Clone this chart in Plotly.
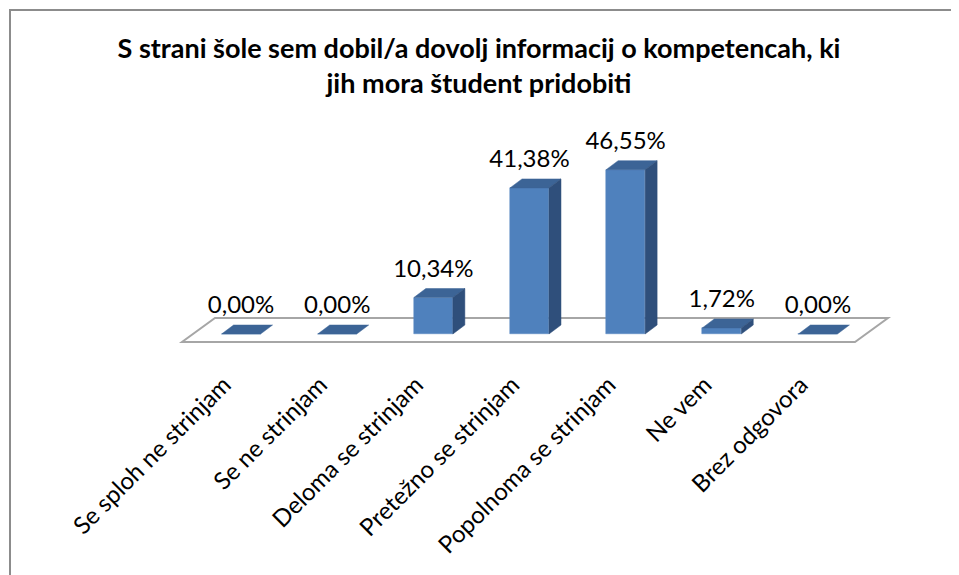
import plotly.graph_objects as go

# ---- data ----
categories = ["Se sploh ne strinjam", "Se ne strinjam", "Deloma se strinjam",
              "Pretežno se strinjam", "Popolnoma se strinjam", "Ne vem", "Brez odgovora"]
values = [0.00, 0.00, 10.34, 41.38, 46.55, 1.72, 0.00]
labels = ["0,00%", "0,00%", "10,34%", "41,38%", "46,55%", "1,72%", "0,00%"]
title_text = "S strani šole sem dobil/a dovolj informacij o kompetencah, ki<br>jih mora študent pridobiti"

# ---- geometry / style (page pixels -> figure pixels -> data units) ----
OFF = 8                 # default body margin of the html page
W, H = 959, 575
PX_CAT = 96.14          # pixels per category
PX_PCT = 3.53           # pixels per percent
FLOOR_X0 = 182 - OFF    # x of floor front-left corner
BAR_BASE_PX = 334 - OFF # y of bar front bottom (value 0)
PLOT_L, PLOT_R, PLOT_T, PLOT_B = 140, 900, 100, 357

FLOOR_DX, FLOOR_DY = 33 / PX_CAT, 24 / PX_PCT     # floor depth
FLOOR_FRONT = -8 / PX_PCT                          # floor front edge (value units)
BAR_SHIFT = 11 / PX_CAT                            # bar front offset in x
BAR_W = 39 / PX_CAT
BAR_DX, BAR_DY = 12 / PX_CAT, 9 / PX_PCT
LABEL_GAP = 27 / PX_PCT

FRONT = "#4F81BD"
TOP = "#3C6496"
SIDE = "#2F4F7B"

xmin = (PLOT_L - FLOOR_X0) / PX_CAT - 0.5
xmax = (PLOT_R - FLOOR_X0) / PX_CAT - 0.5
ymin = (BAR_BASE_PX - PLOT_B) / PX_PCT
ymax = (BAR_BASE_PX - PLOT_T) / PX_PCT

n = len(categories)
fig = go.Figure()

# floor (shape below all traces)
fx = [-0.5, n - 0.5, n - 0.5 + FLOOR_DX, -0.5 + FLOOR_DX]
fy = [FLOOR_FRONT, FLOOR_FRONT, FLOOR_FRONT + FLOOR_DY, FLOOR_FRONT + FLOOR_DY]
floor_path = "M " + " L ".join(f"{a},{b}" for a, b in zip(fx, fy)) + " Z"
fig.add_shape(type="path", xref="x", yref="y", path=floor_path,
              fillcolor="white", line=dict(color="#A6A6A6", width=2), layer="below")

# top and side faces
for i, v in enumerate(values):
    xl = i + BAR_SHIFT - BAR_W / 2
    xr = i + BAR_SHIFT + BAR_W / 2
    fig.add_trace(go.Scatter(
        x=[xl, xr, xr + BAR_DX, xl + BAR_DX, xl],
        y=[v, v, v + BAR_DY, v + BAR_DY, v],
        mode="lines", fill="toself", fillcolor=TOP, line=dict(color=TOP, width=0.5),
        hoverinfo="skip", showlegend=False))
    if v > 0:
        fig.add_trace(go.Scatter(
            x=[xr, xr + BAR_DX, xr + BAR_DX, xr, xr],
            y=[0, BAR_DY, v + BAR_DY, v, 0],
            mode="lines", fill="toself", fillcolor=SIDE, line=dict(color=SIDE, width=0.5),
            hoverinfo="skip", showlegend=False))

# value labels
fig.add_trace(go.Scatter(
    x=[i + BAR_SHIFT for i in range(n)], y=[v + LABEL_GAP for v in values],
    mode="text", text=labels, textposition="middle center",
    textfont=dict(family="Lato", size=24, color="black"),
    hoverinfo="skip", showlegend=False))

# front faces
fig.add_trace(go.Bar(
    x=[i + BAR_SHIFT for i in range(n)], y=values, width=BAR_W,
    marker=dict(color=FRONT, line=dict(color="#5B8BC4", width=0.5)),
    hoverinfo="skip", showlegend=False))

# chart border (only top/left visible in frame)
def px_to_paper_x(p):
    return (p - PLOT_L) / (PLOT_R - PLOT_L)

def px_to_paper_y(p):
    return (PLOT_B - p) / (PLOT_B - PLOT_T)

fig.add_shape(type="rect", xref="paper", yref="paper",
              x0=px_to_paper_x(10 - OFF), x1=px_to_paper_x(W + 20),
              y0=px_to_paper_y(H + 20), y1=px_to_paper_y(10 - OFF),
              line=dict(color="#8C8C8C", width=2), layer="below")

fig.update_layout(
    width=W, height=H,
    margin=dict(l=PLOT_L, r=W - PLOT_R, t=PLOT_T, b=H - PLOT_B),
    paper_bgcolor="white", plot_bgcolor="white",
    title=dict(text="<b>" + title_text + "</b>", x=(479 - OFF) / W, xanchor="center",
               y=1 - (58 - OFF) / H, yanchor="middle",
               font=dict(family="Lato", size=27, color="black")),
    xaxis=dict(range=[xmin, xmax], tickvals=list(range(n)), ticktext=categories,
               tickangle=-45, showgrid=False, zeroline=False, showline=False,
               ticks="", ticklabelshift=-6,
               tickfont=dict(family="Lato", size=24, color="black")),
    yaxis=dict(range=[ymin, ymax], visible=False),
    bargap=0, barmode="overlay",
)

fig.write_html("out.html")
